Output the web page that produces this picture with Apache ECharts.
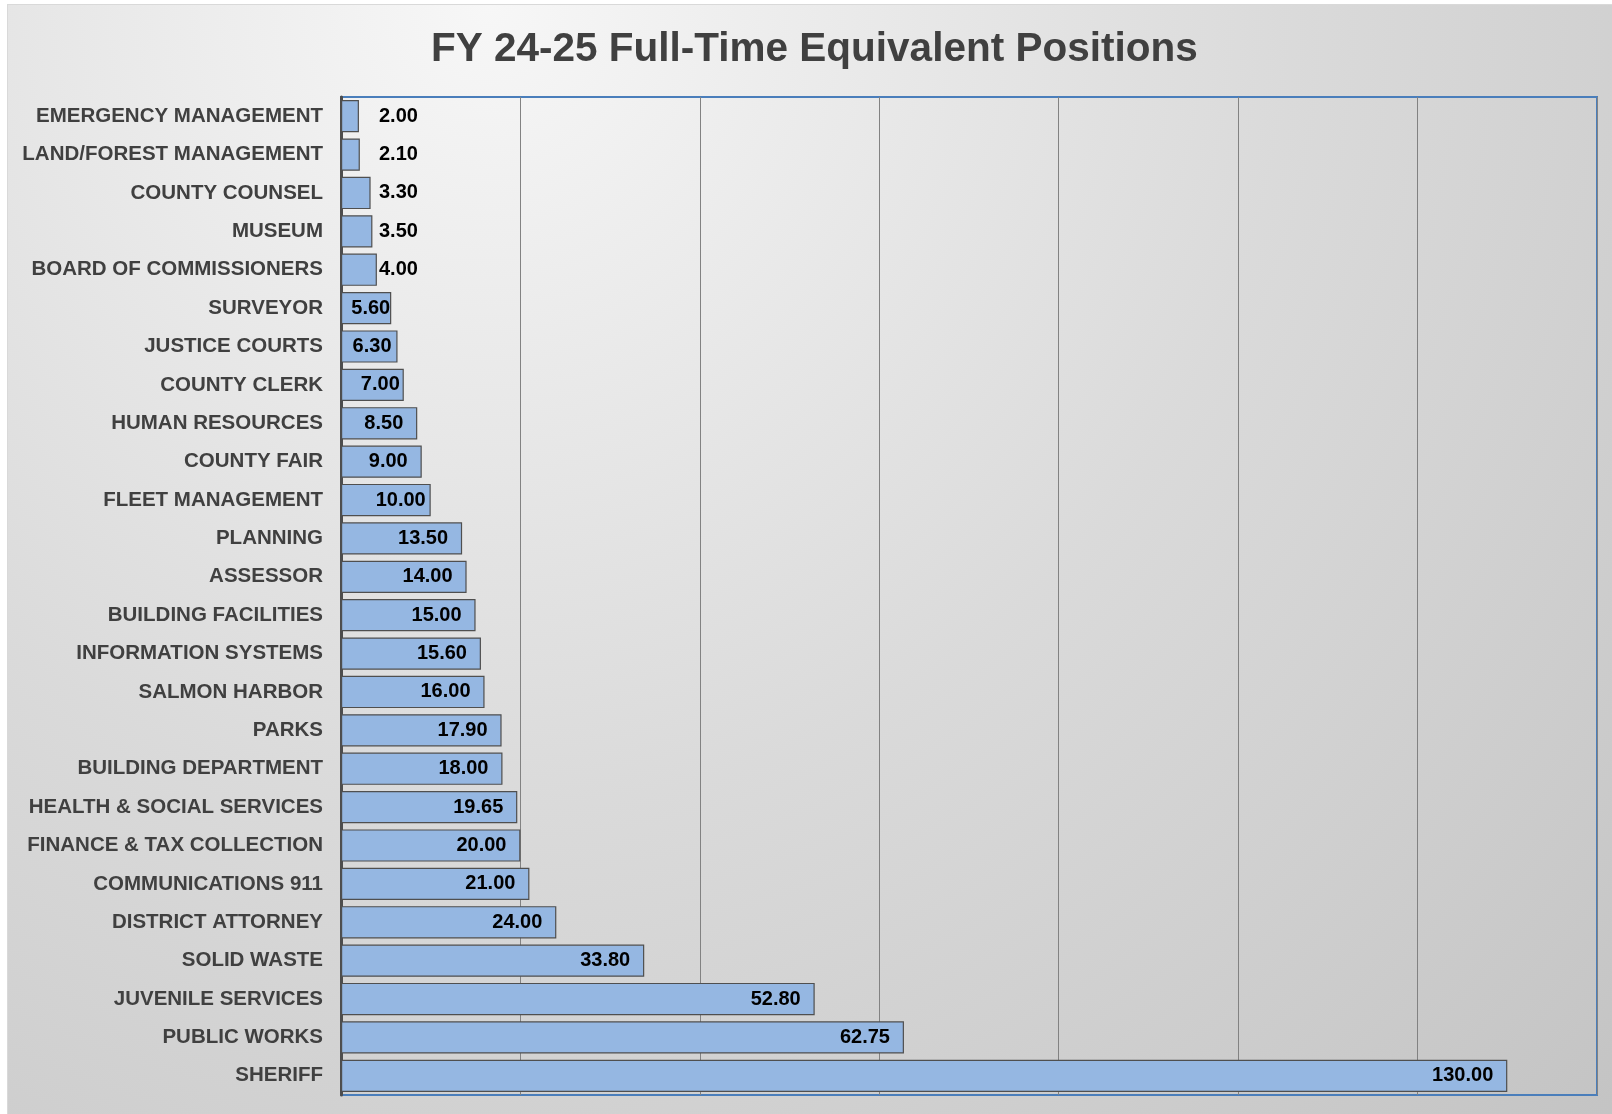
<!DOCTYPE html>
<html>
<head>
<meta charset="utf-8">
<script src="https://cdn.jsdelivr.net/npm/echarts@6/dist/echarts.min.js"></script>
<style>
  html, body { margin: 0; padding: 0; background: #ffffff; }
  #chart { position: absolute; left: 7px; top: 4px; width: 1605px; height: 1110px;
           border-top: 1px solid #d9d9d9; border-left: 1px solid #d9d9d9; box-sizing: border-box; }
</style>
</head>
<body>
<div id="chart"></div>
<script>
const titleText = 'FY 24-25 Full-Time Equivalent Positions';

const categories = [
  'EMERGENCY MANAGEMENT', 'LAND/FOREST MANAGEMENT', 'COUNTY COUNSEL', 'MUSEUM',
  'BOARD OF COMMISSIONERS', 'SURVEYOR', 'JUSTICE COURTS', 'COUNTY CLERK',
  'HUMAN RESOURCES', 'COUNTY FAIR', 'FLEET MANAGEMENT', 'PLANNING', 'ASSESSOR',
  'BUILDING FACILITIES', 'INFORMATION SYSTEMS', 'SALMON HARBOR', 'PARKS',
  'BUILDING DEPARTMENT', 'HEALTH & SOCIAL SERVICES', 'FINANCE & TAX COLLECTION',
  'COMMUNICATIONS 911', 'DISTRICT ATTORNEY', 'SOLID WASTE', 'JUVENILE SERVICES',
  'PUBLIC WORKS', 'SHERIFF'
];

const fteValues = [
  2.00, 2.10, 3.30, 3.50, 4.00, 5.60, 6.30, 7.00, 8.50, 9.00, 10.00, 13.50, 14.00,
  15.00, 15.60, 16.00, 17.90, 18.00, 19.65, 20.00, 21.00, 24.00, 33.80, 52.80,
  62.75, 130.00
];

const xMin = 0, xMax = 140, xInterval = 20;

// label placement styles (Excel-like inside-end placement)
const defaultInset = 14;
const insetOverrides = { 5: 1, 6: 6, 7: 4, 10: 5 };
const narrowLabelOffset = 38;   // labels that don't fit sit just right of the bar start
const narrowThresholdIndex = 4;

const seriesData = fteValues.map((v, i) => {
  let label;
  if (i <= narrowThresholdIndex) {
    label = { position: [narrowLabelOffset, '50%'], align: 'left', verticalAlign: 'middle' };
  } else {
    label = { position: 'insideRight', distance: (insetOverrides[i] !== undefined ? insetOverrides[i] : defaultInset) };
  }
  return { value: v, label: label };
});

const chart = echarts.init(document.getElementById('chart'), null, { renderer: 'canvas' });

chart.setOption({
  animation: false,
  backgroundColor: {
    type: 'radial', x: 0.3, y: 0.0, r: 1.45,
    colorStops: [
      { offset: 0, color: '#f7f7f7' },
      { offset: 0.5, color: '#dadada' },
      { offset: 1, color: '#c3c3c3' }
    ]
  },
  title: {
    text: titleText,
    left: 418,
    top: 19,
    padding: 5,
    textStyle: {
      fontFamily: 'Liberation Sans, Arial, sans-serif',
      fontSize: 40.5, fontWeight: 'bold', color: '#404040'
    }
  },
  grid: {
    left: 333, right: 15, top: 92, bottom: 19,
    show: true, borderColor: '#4a7ebb', borderWidth: 2, backgroundColor: 'transparent',
    containLabel: false
  },
  xAxis: {
    type: 'value', min: xMin, max: xMax, interval: xInterval,
    axisLabel: { show: false },
    axisLine: { show: false },
    axisTick: { show: false },
    splitLine: { show: true, lineStyle: { color: '#828282', width: 1 } }
  },
  yAxis: {
    type: 'category', data: categories, inverse: true,
    axisLine: { show: true, lineStyle: { color: '#4d4d4d', width: 3 } },
    axisTick: { show: false },
    axisLabel: {
      margin: 18,
      fontFamily: 'Liberation Sans, Arial, sans-serif',
      fontSize: 20.5, fontWeight: 'bold', color: '#404040'
    }
  },
  series: [{
    type: 'bar',
    data: seriesData,
    barCategoryGap: '16%',
    itemStyle: { color: '#95b7e2', borderColor: '#4f4f4f', borderWidth: 1.2 },
    label: {
      show: true,
      fontFamily: 'Liberation Sans, Arial, sans-serif',
      fontSize: 20, fontWeight: 'bold', color: '#000000',
      formatter: p => p.value.toFixed(2)
    }
  }]
});
</script>
</body>
</html>
